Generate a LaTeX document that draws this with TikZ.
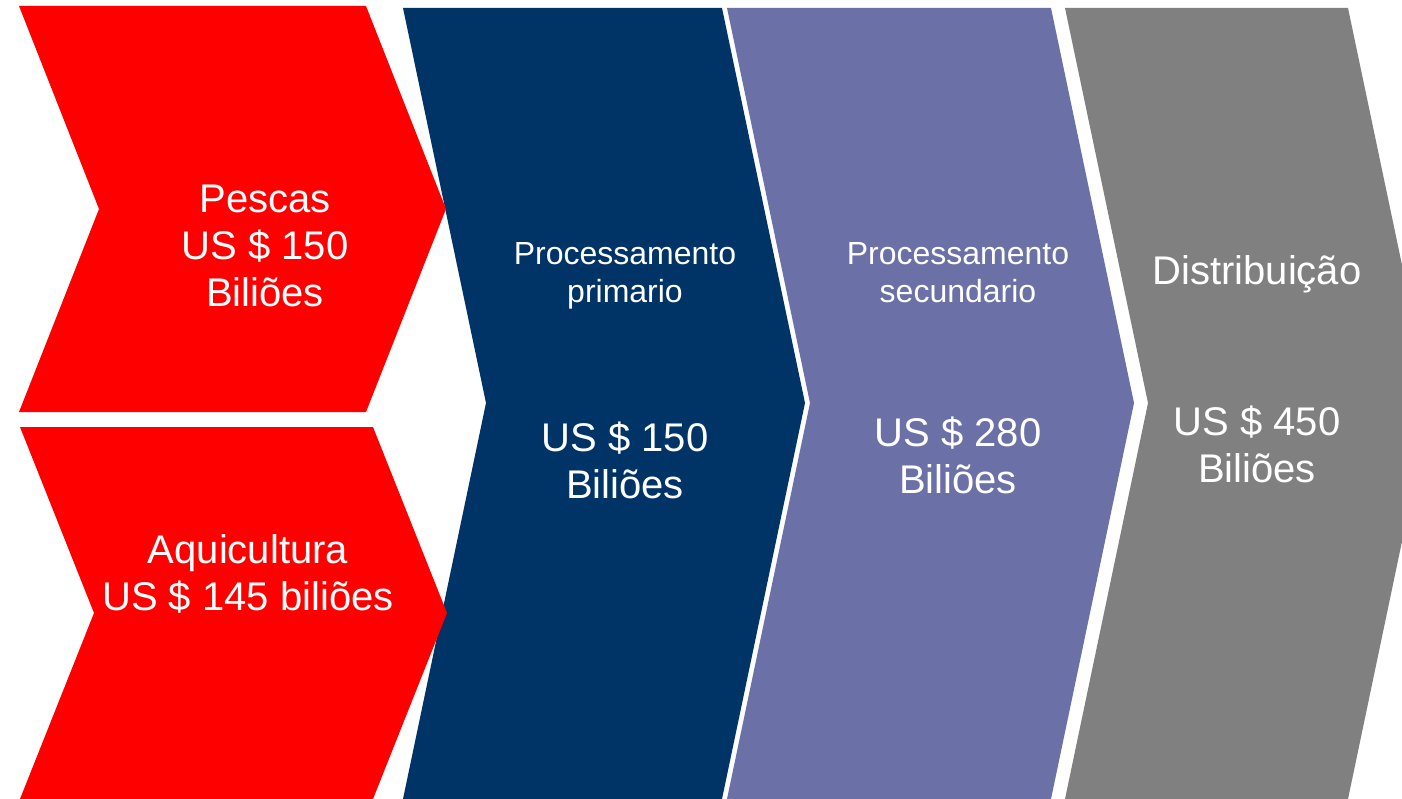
\documentclass[tikz,border=0pt]{standalone}
\usepackage{fontspec}
\setmainfont{Liberation Sans}

\definecolor{fishred}{HTML}{FF0000}
\definecolor{stageblue}{HTML}{003366}
\definecolor{stagepurple}{HTML}{6B70A6}
\definecolor{stagegray}{HTML}{808080}

\tikzset{
  bigtext/.style={text=white, align=center, anchor=base, inner sep=0pt,
    font=\fontsize{40}{47}\selectfont},
  smalltext/.style={text=white, align=center, anchor=base, inner sep=0pt,
    font=\fontsize{32}{38}\selectfont}
}

\begin{document}
\begin{tikzpicture}[x=1pt, y=-1pt]
  \clip (0,0) rectangle (1402,799);
  \fill[white] (0,0) rectangle (1402,799);
  % value chain stages
  \foreach \l/\r/\c in {403/722/stageblue, 727/1051/stagepurple, 1065/1348/stagegray} {
    \fill[\c] (\l,8) -- (\r,8) -- (\r+83,403) -- (\r,799) -- (\l,799) -- (\l+83,403) -- cycle;
  }
  % red chevrons (capture), on top of the first stage
  \fill[fishred] (19,6) -- (366,6) -- (446,209) -- (366,412) -- (19,412) -- (99,209) -- cycle;
  \fill[fishred] (20,427) -- (373,427) -- (447,613) -- (373,799) -- (20,799) -- (94,613) -- cycle;
  % labels (anchored at the baseline of the last line)
  \node[bigtext] (pescas) at (265,307) {Pescas\\US \$ 150\\Biliões};
  \node[bigtext] (aquicultura) at (248,610) {Aquicultura\\US \$ 145 biliões};
  \node[smalltext] (primario) at (625,303) {Processamento\\primario};
  \node[bigtext] (primval) at (625,498) {US \$ 150\\Biliões};
  \node[smalltext] (secundario) at (958,303) {Processamento\\secundario};
  \node[bigtext] (secval) at (958,493) {US \$ 280\\Biliões};
  \node[bigtext] (distrib) at (1257,285) {Distribuição};
  \node[bigtext] (distval) at (1257,482) {US \$ 450\\Biliões};
\end{tikzpicture}
\end{document}
